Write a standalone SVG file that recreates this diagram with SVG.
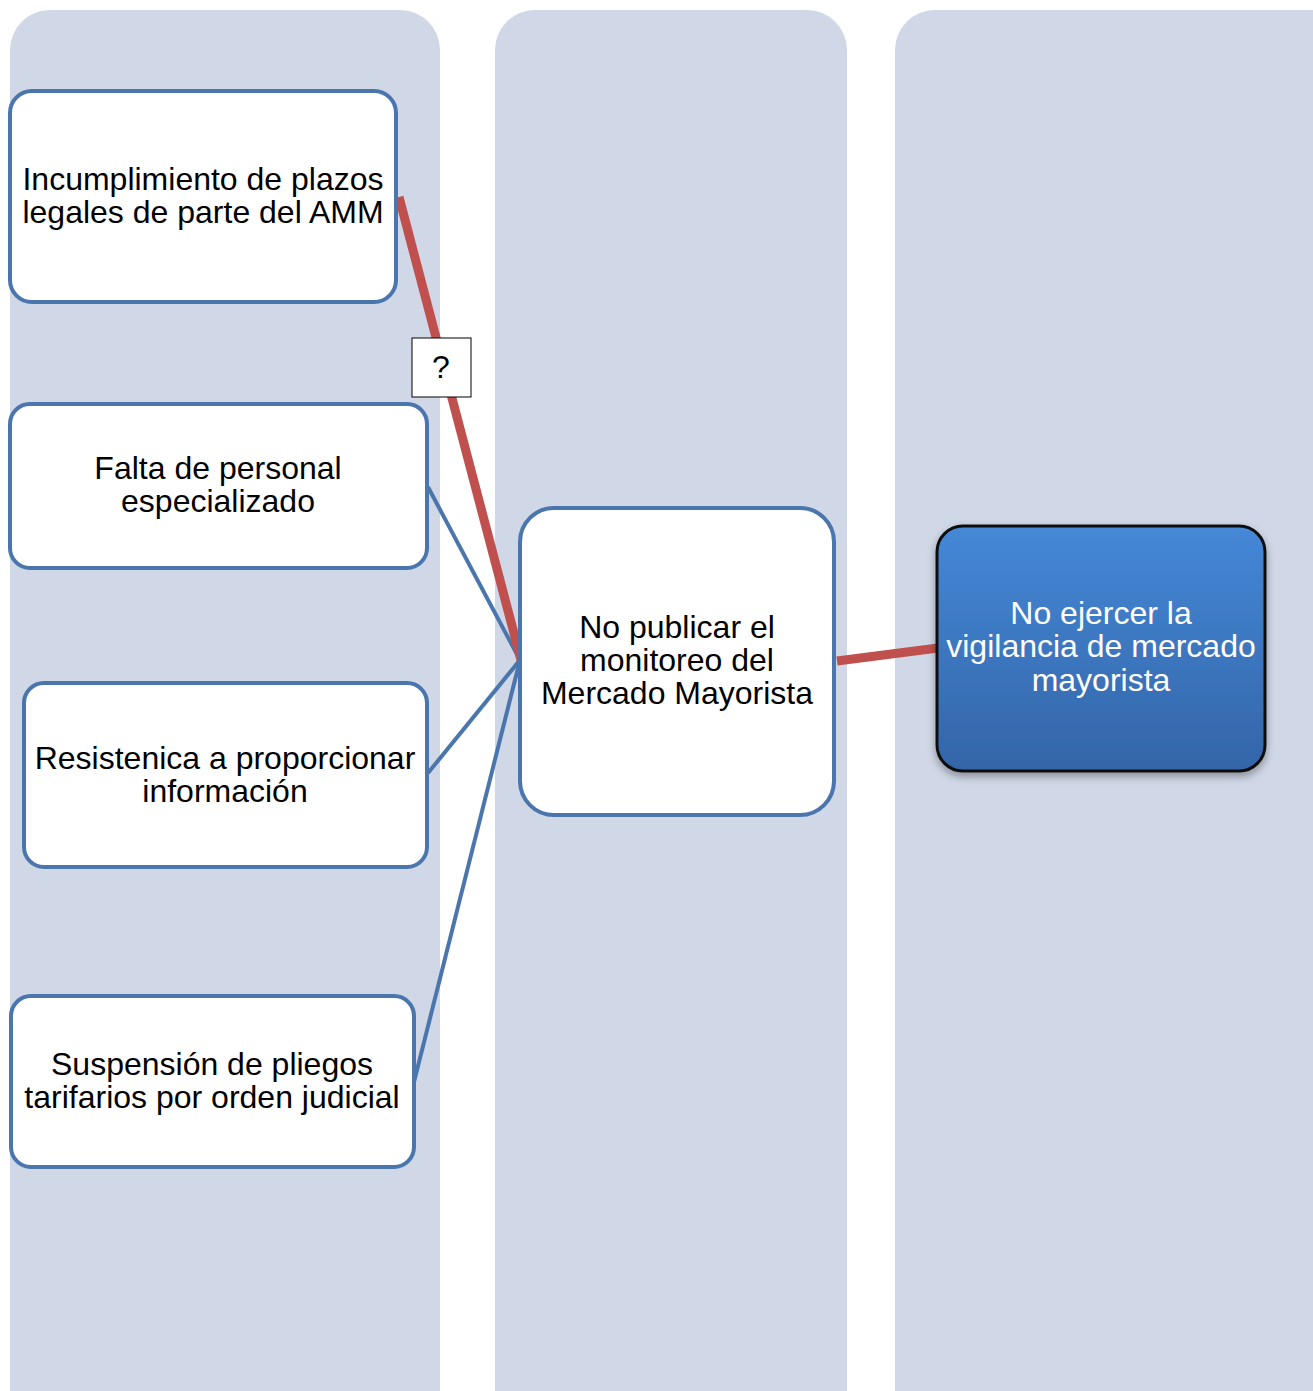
<svg xmlns="http://www.w3.org/2000/svg" width="1313" height="1391" viewBox="0 0 1313 1391">
<defs>
<style>
.col{fill:#d0d8e7}
.node{fill:#fff;stroke:#4a76ad;stroke-width:4}
.t{font-family:"Liberation Sans",Arial,sans-serif;font-size:32px;fill:#000;text-anchor:middle}
.tw{fill:#fff}
.blue{stroke:#4a76ad;stroke-width:4;fill:none}
.red{stroke:#c0504d;stroke-width:9;fill:none}
</style>
<linearGradient id="g" x1="0" y1="0" x2="0" y2="1">
<stop offset="0" stop-color="#4a8ad8"/>
<stop offset="0.03" stop-color="#4487d6"/>
<stop offset="1" stop-color="#3465a8"/>
</linearGradient>
<filter id="sh" x="-10%" y="-10%" width="120%" height="125%">
<feDropShadow dx="0" dy="4" stdDeviation="4" flood-color="#000" flood-opacity="0.35"/>
</filter>
</defs>
<rect width="1313" height="1391" fill="#fff"/>
<g id="columns">
<rect class="col" x="10" y="10" width="430" height="1420" rx="40"/>
<rect class="col" x="495" y="10" width="352" height="1420" rx="40"/>
<rect class="col" x="895" y="10" width="460" height="1420" rx="40"/>
</g>
<g id="connectors">
<line class="blue" x1="428" y1="487" x2="520" y2="660"/>
<line class="blue" x1="428" y1="773" x2="520" y2="660"/>
<line class="blue" x1="414" y1="1082" x2="520" y2="660"/>
<line class="red" x1="399" y1="197" x2="521" y2="660"/>
<line class="red" x1="837" y1="661" x2="938" y2="648"/>
</g>
<g id="n1">
<rect class="node" x="10" y="91" width="386" height="211" rx="22"/>
<text class="t" x="203" y="190">Incumplimiento de plazos</text>
<text class="t" x="203" y="223">legales de parte del AMM</text>
</g>
<g id="n2">
<rect class="node" x="10" y="404" width="417" height="164" rx="20"/>
<text class="t" x="218" y="479">Falta de personal</text>
<text class="t" x="218" y="512">especializado</text>
</g>
<g id="n3">
<rect class="node" x="24" y="683" width="403" height="184" rx="20"/>
<text class="t" x="225" y="769">Resistenica a proporcionar</text>
<text class="t" x="225" y="802">información</text>
</g>
<g id="n4">
<rect class="node" x="11" y="996" width="403" height="171" rx="20"/>
<text class="t" x="212" y="1075">Suspensión de pliegos</text>
<text class="t" x="212" y="1108">tarifarios por orden judicial</text>
</g>
<g id="center">
<rect class="node" x="520" y="508" width="314" height="307" rx="34"/>
<text class="t" x="677" y="638">No publicar el</text>
<text class="t" x="677" y="671">monitoreo del</text>
<text class="t" x="677" y="704">Mercado Mayorista</text>
</g>
<g id="result">
<rect x="937" y="526" width="328" height="245" rx="26" fill="url(#g)" stroke="#111" stroke-width="3" filter="url(#sh)"/>
<text class="t tw" x="1101" y="624">No ejercer la</text>
<text class="t tw" x="1101" y="657">vigilancia de mercado</text>
<text class="t tw" x="1101" y="691">mayorista</text>
</g>
<g id="label">
<rect x="412" y="338" width="59" height="59" fill="#fff" stroke="#000" stroke-width="1"/>
<text class="t" x="441" y="378">?</text>
</g>
</svg>
